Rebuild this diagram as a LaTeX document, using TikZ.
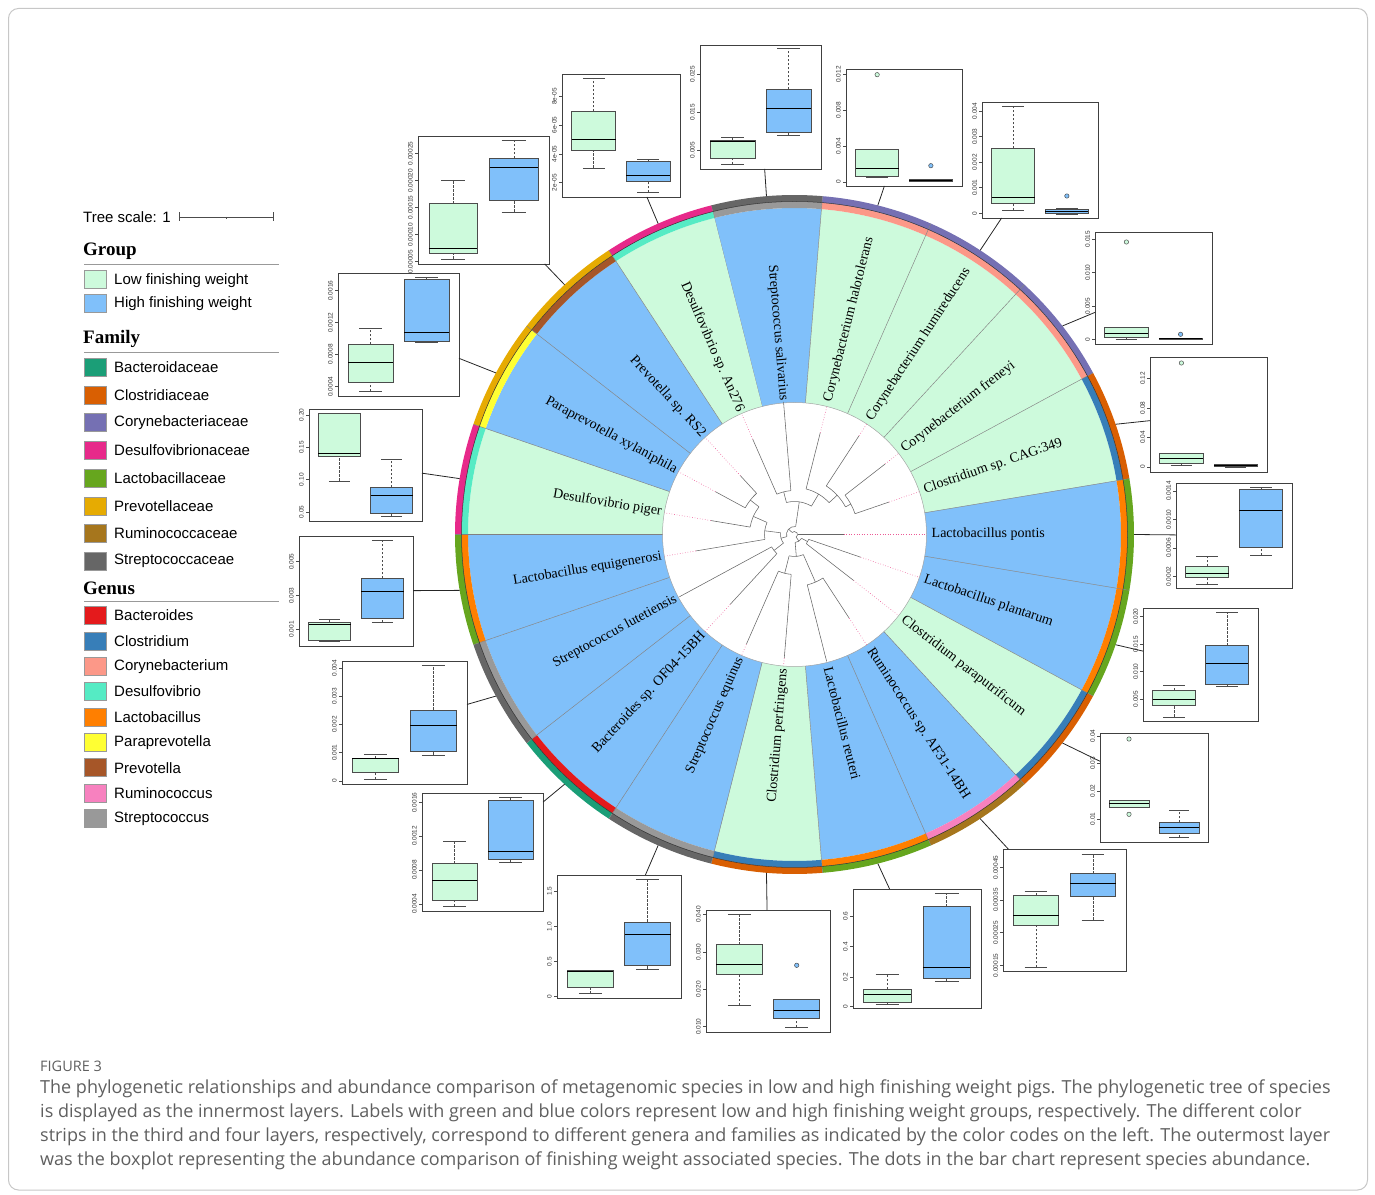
\documentclass[tikz,border=0pt]{standalone}
\usepackage{fontspec}
\setmainfont{Liberation Serif}
\newfontfamily\lsans{Liberation Sans}
\newfontfamily\osans{Open Sans}
\definecolor{low}{RGB}{205,250,220}
\definecolor{high}{RGB}{128,192,250}
\definecolor{fBac}{RGB}{27,158,119}
\definecolor{fClo}{RGB}{217,95,2}
\definecolor{fCor}{RGB}{117,112,179}
\definecolor{fDes}{RGB}{231,41,138}
\definecolor{fLac}{RGB}{102,166,30}
\definecolor{fPre}{RGB}{230,171,2}
\definecolor{fRum}{RGB}{166,118,29}
\definecolor{fStr}{RGB}{102,102,102}
\definecolor{gBac}{RGB}{228,26,28}
\definecolor{gClo}{RGB}{55,126,184}
\definecolor{gCor}{RGB}{252,152,136}
\definecolor{gDes}{RGB}{85,235,196}
\definecolor{gLac}{RGB}{255,127,0}
\definecolor{gPar}{RGB}{255,255,51}
\definecolor{gPre}{RGB}{166,86,40}
\definecolor{gRum}{RGB}{247,129,191}
\definecolor{gStr}{RGB}{153,153,153}
\definecolor{capgray}{RGB}{95,95,95}
\definecolor{pinkdot}{RGB}{236,90,150}
\tikzset{
 frame/.style={draw=black!75, line width=0.9pt, fill=white, inner sep=0pt, outer sep=0pt},
 whisk/.style={draw=black!70, dash pattern=on 2.5pt off 1.5pt, line width=0.6pt},
 capst/.style={draw=black!70, line width=0.6pt},
 boxst/.style={draw=black!70, line width=0.7pt},
 medst/.style={draw=black, line width=1pt},
 outl/.style={draw=black!70, line width=0.5pt},
 ticklab/.style={font=\lsans\fontsize{6.5}{7}\selectfont, rotate=90, anchor=south, inner sep=0pt, text=black!80},
 conn/.style={draw=black!85, line width=0.8pt},
 tree/.style={draw=black!60, line width=0.55pt},
 pinkline/.style={draw=pinkdot, dotted, line width=0.6pt},
 sepline/.style={draw=black!50, line width=0.45pt},
 splab/.style={font=\fontsize{14}{16}\selectfont, inner sep=0pt},
 legtxt/.style={font=\lsans\fontsize{15}{17}\selectfont, anchor=west, inner sep=0pt},
 legtitle/.style={font=\bfseries\fontsize{19}{21}\selectfont, anchor=west, inner sep=0pt},
 swatch/.style={draw=black!40, line width=0.5pt, minimum width=22.7pt, minimum height=18pt, inner sep=0pt},
 captxt/.style={font=\osans\fontsize{18}{21}\selectfont, text=capgray, anchor=west, inner sep=0pt},
}
\newcount\tkc
\newcommand\panel[5]{%
  \def\PXa{#2}%
  \pgfmathsetmacro\PW{#4-#2}\pgfmathsetmacro\PH{#5-#3}%
  \node[frame, minimum width=\PW pt, minimum height=\PH pt] (#1) at ({(#2+#4)/2},{(#3+#5)/2}) {};%
}
\newcommand\tk[2]{%
  \global\advance\tkc by 1
  \draw[capst] (\PXa,#1) -- ({\PXa-3.5},#1);%
  \node[ticklab] (tk\the\tkc) at ({\PXa-5},#1) {#2};%
}
\newcommand\bx[7]{%
  \pgfmathsetmacro\BPc{\PXa+#1*\PW}%
  \pgfmathsetmacro\BPh{0.1852*\PW}%
  \pgfmathsetmacro\BPw{0.0926*\PW}%
  \draw[whisk] (\BPc,#3) -- (\BPc,#4) (\BPc,#6) -- (\BPc,#7);%
  \draw[capst] ({\BPc-\BPw},#3) -- ({\BPc+\BPw},#3) ({\BPc-\BPw},#7) -- ({\BPc+\BPw},#7);%
  \draw[boxst, fill=#2] ({\BPc-\BPh},#4) rectangle ({\BPc+\BPh},#6);%
  \draw[medst] ({\BPc-\BPh},#5) -- ({\BPc+\BPh},#5);%
}
\newcommand\gbx{\bx{0.2685}{low}}
\newcommand\hbx{\bx{0.7315}{high}}
\newcommand\olg[1]{\filldraw[outl, fill=low] ({\PXa+0.2685*\PW},#1) circle[radius=2.2pt];}
\newcommand\olb[1]{\filldraw[outl, fill=high] ({\PXa+0.7315*\PW},#1) circle[radius=2.2pt];}
\newcommand\tarc[3]{\draw[tree] (#2:#1) arc[start angle=#2, end angle=#3, radius=#1];}
\newcommand\tbr[3]{\draw[tree] (#1:#2) -- (#1:#3);}
\newcommand\tpk[2]{\draw[pinkline] (#1:#2) -- (#1:132);}
\begin{document}
\begin{tikzpicture}[x=1pt,y=1pt]
\useasboundingbox (0,0) rectangle (1375,1194);
% ---------------- circular tree ----------------
\begin{scope}[shift={(794.5,659.5)}]
\foreach \i/\gc/\ge/\fa/\lab in {
 1/high/gStr/fStr/Streptococcus salivarius,
 2/low/gCor/fCor/Corynebacterium halotolerans,
 3/low/gCor/fCor/Corynebacterium humireducens,
 4/low/gCor/fCor/Corynebacterium freneyi,
 5/low/gClo/fClo/Clostridium sp. CAG:349,
 6/high/gLac/fLac/Lactobacillus pontis,
 7/high/gLac/fLac/Lactobacillus plantarum,
 8/low/gClo/fClo/Clostridium paraputrificum,
 9/high/gRum/fRum/Ruminococcus sp. AF31-14BH,
 10/high/gLac/fLac/Lactobacillus reuteri,
 11/low/gClo/fClo/Clostridium perfringens,
 12/high/gStr/fStr/Streptococcus equinus,
 13/high/gBac/fBac/Bacteroides sp. OF04-15BH,
 14/high/gStr/fStr/Streptococcus lutetiensis,
 15/high/gLac/fLac/Lactobacillus equigenerosi,
 16/low/gDes/fDes/Desulfovibrio piger,
 17/high/gPar/fPre/Paraprevotella xylaniphila,
 18/high/gPre/fPre/Prevotella sp. RS2,
 19/low/gDes/fDes/Desulfovibrio sp. An276}{
  \pgfmathsetmacro\a{(6-\i)*360/19}
  \pgfmathsetmacro\aa{\a-180/19}
  \pgfmathsetmacro\ab{\a+180/19}
  \fill[\gc] (\aa:132) arc[start angle=\aa, end angle=\ab, radius=132] -- (\ab:326.5) arc[start angle=\ab, end angle=\aa, radius=326.5] -- cycle;
  \fill[\ge] (\aa:326.5) arc[start angle=\aa, end angle=\ab, radius=326.5] -- (\ab:333) arc[start angle=\ab, end angle=\aa, radius=333] -- cycle;
  \fill[\fa] (\aa:333) arc[start angle=\aa, end angle=\ab, radius=333] -- (\ab:339.5) arc[start angle=\ab, end angle=\aa, radius=339.5] -- cycle;
  \draw[sepline] (\ab:132) -- (\ab:339.5);
  \coordinate (r\i) at (\a:339.5);
  \pgfmathsetmacro\ca{cos(\a)}
  \ifdim \ca pt > 0pt
    \node[splab, anchor=west, rotate=\a] (lab\i) at (\a:137) {\lab};
  \else
    \pgfmathsetmacro\ra{\a+180}
    \node[splab, anchor=east, rotate=\ra] (lab\i) at (\a:134.5) {\lab};
  \fi
}
\draw[black!80, line width=0.5pt] (0,0) circle[radius=333];
\draw[black!35, line width=0.5pt] (0,0) circle[radius=132];
% dendrogram
\tarc{3}{-56.9}{138.6}
\tbr{-56.9}{3}{8} \tbr{0}{3}{49} \tbr{138.6}{3}{8}
\tpk{0}{49}
\tarc{8}{-85.3}{-28.42}
\tbr{-28.42}{8}{15} \tbr{-85.3}{8}{22}
\tarc{15}{-37.89}{-18.95}
\tbr{-18.95}{15}{70} \tbr{-37.89}{15}{75}
\tpk{-18.95}{70} \tpk{-37.89}{75}
\tarc{22}{-104.2}{-66.3}
\tbr{-66.3}{22}{52} \tbr{-104.2}{22}{40}
\tarc{52}{-75.79}{-56.84}
\tbr{-56.84}{52}{100} \tbr{-75.79}{52}{131}
\tpk{-56.84}{100}
\tarc{40}{-113.68}{-94.74}
\tbr{-94.74}{40}{124} \tbr{-113.68}{40}{120}
\tpk{-94.74}{124} \tpk{-113.68}{120}
\tarc{8}{81.7}{195.4}
\tbr{81.7}{8}{33} \tbr{195.4}{8}{14}
\tarc{33}{59.2}{104.2}
\tbr{59.2}{33}{47} \tbr{104.2}{33}{44}
\tarc{47}{42.63}{75.79}
\tbr{75.79}{47}{105} \tbr{42.63}{47}{58}
\tpk{75.79}{105}
\tarc{58}{28.42}{56.84}
\tbr{56.84}{58}{118} \tbr{28.42}{58}{64}
\tpk{56.84}{118}
\tarc{64}{18.95}{37.89}
\tbr{37.89}{64}{115} \tbr{18.95}{64}{100}
\tpk{37.89}{115} \tpk{18.95}{100}
\tarc{44}{94.74}{113.68}
\tbr{94.74}{44}{133} \tbr{113.68}{44}{104}
\tpk{113.68}{104}
\tarc{14}{172.9}{217.9}
\tbr{217.9}{14}{26} \tbr{172.9}{14}{30}
\tarc{26}{208.42}{227.37}
\tbr{227.37}{26}{95} \tbr{208.42}{26}{131}
\tpk{227.37}{95}
\tarc{30}{156.3}{189.47}
\tbr{189.47}{30}{100} \tbr{156.3}{30}{45}
\tpk{189.47}{100}
\tarc{45}{142.1}{170.53}
\tbr{170.53}{45}{85} \tbr{142.1}{45}{56}
\tpk{170.53}{85}
\tarc{56}{132.63}{151.58}
\tbr{151.58}{56}{90} \tbr{132.63}{56}{80}
\tpk{151.58}{90} \tpk{132.63}{80}
\end{scope}
% ---------------- image-coordinate part ----------------
\begin{scope}[shift={(0,1194)}, yscale=-1]
\draw[black!22, line width=1pt, rounded corners=10pt] (8.5,8.5) rectangle (1367.5,1190);
% legend
\node[legtxt] (ts) at (83,217) {Tree scale: 1};
\draw[black!70, line width=0.6pt] (179,217) -- (273,217);
\draw[black!70, line width=0.6pt] (179,212.5) -- (179,221.5) (273,212.5) -- (273,221.5) (226,217) -- (226,219.5);
\node[legtitle] (tg) at (83,251) {Group};
\draw[black!40, line width=0.6pt] (84,264) -- (279,264);
\node[swatch, fill=low] (sgl) at (95.3,279.2) {};
\node[legtxt] at (114,280.8) {Low finishing weight};
\node[swatch, fill=high] (sgh) at (95.3,303.7) {};
\node[legtxt] at (114,304) {High finishing weight};
\node[legtitle] (tf) at (83,338.8) {Family};
\draw[black!40, line width=0.6pt] (84,352.2) -- (279,352.2);
\foreach \k/\c/\t in {0/fBac/Bacteroidaceae,1/fClo/Clostridiaceae,2/fCor/Corynebacteriaceae,3/fDes/Desulfovibrionaceae,4/fLac/Lactobacillaceae,5/fPre/Prevotellaceae,6/fRum/Ruminococcaceae,7/fStr/Streptococcaceae}{
  \node[swatch, fill=\c] (sf\k) at (95.3,{367.3+27.7*\k}) {};
  \node[legtxt] (lf\k) at (114,{367.3+27.7*\k}) {\t};
}
\node[legtitle] (tgen) at (83,588.6) {Genus};
\draw[black!40, line width=0.6pt] (84,601.2) -- (279,601.2);
\foreach \k/\c/\t in {0/gBac/Bacteroides,1/gClo/Clostridium,2/gCor/Corynebacterium,3/gDes/Desulfovibrio,4/gLac/Lactobacillus,5/gPar/Paraprevotella,6/gPre/Prevotella,7/gRum/Ruminococcus,8/gStr/Streptococcus}{
  \node[swatch, fill=\c] (sg\k) at (95.3,{615.5+25.36*\k}) {};
  \node[legtxt] (lg\k) at (114,{615.5+25.36*\k}) {\t};
}
% ---------------- boxplots ----------------
% 1 Streptococcus salivarius
\panel{P1}{700}{45}{821}{169}
\tk{74}{0.025}\tk{112}{0.015}\tk{150}{0.005}
\gbx{164.3}{158.7}{142}{140.7}{137.7}
\hbx{135.7}{132.3}{108.3}{89.3}{48.3}
% 2 C. halotolerans
\panel{P2}{846}{69}{962}{186}
\tk{74.5}{0.012}\tk{110.3}{0.008}\tk{146.2}{0.004}\tk{182}{0}
\gbx{177.7}{176}{168.7}{149.3}{149.3}\olg{74.7}
\hbx{181.5}{181}{180.5}{179.5}{179.5}\olb{165.7}
% 3 C. humireducens
\panel{P3}{982}{102}{1098}{218}
\tk{111.3}{0.004}\tk{136.8}{0.003}\tk{162.3}{0.002}\tk{187.8}{0.001}\tk{213.3}{0}
\gbx{210.3}{203.3}{197.3}{148.3}{106.7}
\hbx{214}{213.5}{211.5}{209.5}{208.5}\olb{196}
% 4 C. freneyi
\panel{P4}{1095}{232}{1212}{344}
\tk{239}{0.015}\tk{272.7}{0.010}\tk{306}{0.005}\tk{339.3}{0}
\gbx{339}{337.3}{333.3}{327.3}{327.3}\olg{242}
\hbx{339.7}{339.5}{339}{338.5}{338.5}\olb{334.3}
% 5 Clostridium sp. CAG:349
\panel{P5}{1150}{357}{1267}{472}
\tk{378.5}{0.12}\tk{408}{0.08}\tk{437.5}{0.04}\tk{467}{0}
\gbx{465}{463.5}{458.5}{453}{453}\olg{363}
\hbx{467}{466.5}{465.5}{464}{464}
% 6 L. pontis
\panel{P6}{1176}{483}{1292}{588}
\tk{491}{0.0014}\tk{519.5}{0.0010}\tk{548}{0.0006}\tk{576.5}{0.0002}
\gbx{584.3}{577}{573.7}{566.3}{556.3}
\hbx{555.3}{547.7}{511}{489}{487.3}
% 7 L. plantarum
\panel{P7}{1143}{608}{1258}{721}
\tk{616.7}{0.020}\tk{644.3}{0.015}\tk{671.7}{0.010}\tk{699}{0.005}
\gbx{717}{705.3}{699.3}{690.3}{685.3}
\hbx{686.7}{684.7}{663.3}{645.7}{612.3}
% 8 C. paraputrificum
\panel{P8}{1100}{733}{1208}{842}
\tk{736}{0.04}\tk{763.5}{0.03}\tk{791}{0.02}\tk{819}{0.01}
\gbx{807.3}{807.3}{803.7}{800.7}{800.7}\olg{739}\olg{814.3}
\hbx{837.7}{833.7}{827.3}{822.3}{810.3}
% 9 Ruminococcus
\panel{P9}{1003}{849}{1126}{971}
\tk{867.3}{0.00045}\tk{900}{0.00035}\tk{932.7}{0.00025}\tk{965.3}{0.00015}
\gbx{967.3}{925}{916}{895.3}{891.7}
\hbx{920}{896.7}{883.3}{873.7}{854.3}
% 10 L. reuteri
\panel{P10}{853}{889}{981}{1008}
\tk{916}{0.6}\tk{946.5}{0.4}\tk{977}{0.2}\tk{1006.5}{0}
\gbx{1004}{1002.7}{994}{989}{974.3}
\hbx{981.7}{978.3}{967.3}{906.7}{893.3}
% 11 C. perfringens
\panel{P11}{706}{910}{830}{1032}
\tk{914.3}{0.040}\tk{952}{0.030}\tk{989.3}{0.020}\tk{1026.7}{0.010}
\gbx{1005}{974.3}{965}{944.7}{914.3}
\hbx{1027.3}{1018.3}{1010.7}{999.3}{999.3}\olb{965.3}
% 12 S. equinus
\panel{P12}{557}{875}{681}{998}
\tk{891}{1.5}\tk{926.5}{1.0}\tk{961.5}{0.5}\tk{996.5}{0}
\gbx{993.7}{987}{971.7}{970.7}{970.7}
\hbx{969}{965}{934.3}{922}{879.3}
% 13 Bacteroides
\panel{P13}{422}{793}{543}{911}
\tk{802.7}{0.0016}\tk{836}{0.0012}\tk{870}{0.0008}\tk{904}{0.0004}
\gbx{906.3}{900.3}{881}{863.7}{841.7}
\hbx{862}{859.3}{852}{800.3}{797}
% 14 S. lutetiensis
\panel{P14}{342}{661}{467}{784}
\tk{668}{0.004}\tk{696.25}{0.003}\tk{724.5}{0.002}\tk{752.75}{0.001}\tk{781}{0}
\gbx{779.3}{772.3}{759}{758.3}{754.3}
\hbx{755}{751.7}{725.7}{710}{665}
% 15 L. equigenerosi
\panel{P15}{299}{536}{413}{646}
\tk{561.7}{0.005}\tk{595.7}{0.003}\tk{629.3}{0.001}
\gbx{641.3}{640}{625}{622.3}{619.7}
\hbx{622.3}{618.3}{592}{578.3}{540.3}
% 16 D. piger
\panel{P16}{309}{409}{422}{521}
\tk{415}{0.20}\tk{447.3}{0.15}\tk{479.7}{0.10}\tk{512}{0.05}
\gbx{481}{456}{453.3}{413.3}{413.3}
\hbx{516.3}{513.7}{495.3}{487.3}{459}
% 17 Paraprevotella
\panel{P17}{338}{273}{459}{396}
\tk{290.7}{0.0016}\tk{322.7}{0.0012}\tk{354.3}{0.0008}\tk{386.7}{0.0004}
\gbx{391.3}{382.3}{362.3}{344.3}{328}
\hbx{342}{341}{332.3}{279.3}{277}
% 18 Prevotella
\panel{P18}{418}{136}{549}{264}
\tk{153.3}{0.00025}\tk{180.7}{0.00020}\tk{207.3}{0.00015}\tk{234.7}{0.00010}\tk{261.7}{0.00005}
\gbx{259}{253}{248.3}{203.7}{180.3}
\hbx{212}{200.3}{168}{158.3}{140.3}
% 19 Desulfovibrio sp. An276
\panel{P19}{562}{74}{680}{197}
\tk{96.7}{8e-05}\tk{125}{6e-05}\tk{154}{4e-05}\tk{182.7}{2e-05}
\gbx{168}{150.3}{139.3}{111.3}{78.3}
\hbx{192.3}{181.3}{175.3}{161.7}{159}
% connectors
\foreach \i in {1,...,19}{\draw[conn] (r\i) -- (P\i);}
% caption
\node[anchor=west, inner sep=0pt, font=\osans\fontsize{14.5}{17}\selectfont, text=capgray] (fig) at (40,1066) {FIGURE 3};
\node[captxt] (c1) at (40,1089) {The phylogenetic relationships and abundance comparison of metagenomic species in low and high finishing weight pigs. The phylogenetic tree of species};
\node[captxt] (c2) at (40,1113) {is displayed as the innermost layers. Labels with green and blue colors represent low and high finishing weight groups, respectively. The different color};
\node[captxt] (c3) at (40,1137) {strips in the third and four layers, respectively, correspond to different genera and families as indicated by the color codes on the left. The outermost layer};
\node[captxt] (c4) at (40,1161) {was the boxplot representing the abundance comparison of finishing weight associated species. The dots in the bar chart represent species abundance.};
\end{scope}
\end{tikzpicture}
\end{document}
